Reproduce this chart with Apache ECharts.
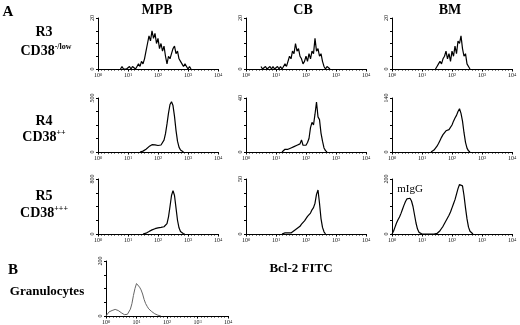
<!DOCTYPE html>
<html>
<head>
<meta charset="utf-8">
<script src="https://cdn.jsdelivr.net/npm/echarts@6/dist/echarts.min.js"></script>
<style>
html, body { margin: 0; padding: 0; background: #fff; }
#chart { width: 520px; height: 325px; }
</style>
</head>
<body>
<div id="chart"></div>
<script>
// bin width in decades, every histogram uses the same one
const STEP = 0.05;

// x axis runs over decades 10^0 .. 10^4
const decadeMin = 0;
const decadeMax = 4;

// counts per bin; the first bin sits at decade `start`
const mpbR3Start = 0.75;
const mpbR3 = [0, 1, 0, 0, 0,
    0, 1, 0, 1, 1, 0, 1, 2, 1, 3,
    2, 4, 7, 10, 13, 11, 15, 12, 14, 10,
    12, 8, 10, 7, 9, 5, 2, 5, 4, 6,
    8, 9, 6, 7, 4, 3, 2, 1, 2, 1,
    0, 1, 0];

const cbR3Start = 0.5;
const cbR3 = [1, 0, 0, 1, 0, 0, 1, 0, 1, 0,
    0, 1, 0, 1, 0, 1, 2, 1, 3, 5,
    4, 7, 6, 10, 7, 8, 5, 4, 2, 3,
    5, 3, 6, 4, 7, 6, 12, 7, 8, 5,
    6, 3, 1, 0, 1, 1, 0];

const bmR3Start = 1.45;
const bmR3 = [0, 1, 2, 3, 2, 4, 5, 7, 4, 6,
    3, 7, 5, 9, 6, 11, 10, 13, 8, 5,
    6, 2, 1, 0];

const mpbR4Start = 1.4;
const mpbR4 = [0, 3, 8, 15, 25, 38, 50, 60, 68, 70,
    66, 62, 60, 62, 65, 80, 110, 170, 260, 360,
    440, 465, 430, 330, 200, 100, 45, 18, 6, 0];

const cbR4Start = 1.2;
const cbR4 = [0, 1, 2, 1, 2, 2, 3, 2, 4, 3,
    5, 4, 6, 9, 5, 6, 5, 7, 10, 18,
    22, 20, 28, 37, 26, 24, 14, 8, 3, 1, 0];

const bmR4Start = 1.3;
const bmR4 = [0, 3, 5, 10, 15, 22, 30, 38, 45, 50,
    55, 52, 58, 62, 70, 80, 88, 95, 105, 112,
    100, 80, 50, 25, 10, 3, 0];

const mpbR5Start = 1.5;
const mpbR5 = [0, 5, 12, 22, 35, 48, 60, 70, 77, 82,
    88, 92, 96, 100, 106, 115, 150, 250, 400, 560,
    630, 560, 380, 200, 90, 35, 12, 3, 0];

const cbR5Start = 1.2;
const cbR5 = [0, 1, 1, 0, 1, 2, 1, 2, 3, 4,
    5, 6, 7, 9, 10, 12, 14, 16, 15, 19,
    22, 24, 28, 36, 40, 28, 14, 6, 2, 0];

const bmR5Start = 0;
const bmR5 = [0, 10, 25, 40, 52, 62, 75, 90, 105, 118,
    128, 132, 130, 120, 100, 70, 40, 18, 6, 2,
    0, 0, 0, 0, 0, 0, 0, 0, 0, 0,
    2, 6, 12, 20, 28, 38, 48, 58, 68, 80,
    95, 110, 125, 145, 165, 180, 187, 175, 140, 95,
    55, 25, 10, 3, 0];

const granStart = 0;
const gran = [0, 4, 15, 22, 20, 26, 24, 25, 20, 18,
    12, 6, 5, 8, 6, 12, 25, 45, 75, 100,
    118, 120, 105, 95, 80, 60, 45, 35, 26, 20,
    16, 12, 8, 5, 3, 1, 0];

const panelStarts = [mpbR3Start, cbR3Start, bmR3Start, mpbR4Start, cbR4Start,
    bmR4Start, mpbR5Start, cbR5Start, bmR5Start, granStart];
const panelCounts = [mpbR3, cbR3, bmR3, mpbR4, cbR4, bmR4, mpbR5, cbR5, bmR5, gran];
const panelYMax = [20, 20, 20, 500, 40, 140, 800, 50, 200, 200];

// layout of the small plots
const colLeft = [98, 246, 392];
const rowTop = [18, 98, 179];
const rowHeight = [51, 54, 55];
const plotWidth = 120;

const SERIF = '"Liberation Serif", "DejaVu Serif", serif';

const chart = echarts.init(document.getElementById('chart'));

const grids = [];
const xAxes = [];
const yAxes = [];
const series = [];

for (let i = 0; i < panelCounts.length; i++) {

    let rect;

    if (i < 9) {
        rect = {
            left: colLeft[i % 3],
            top: rowTop[Math.floor(i / 3)],
            width: plotWidth,
            height: rowHeight[Math.floor(i / 3)]
        };
    } else {
        rect = { left: 106, top: 261, width: 122, height: 55 };
    }

    grids.push(rect);

    xAxes.push({
        gridIndex: i,
        type: 'value',
        min: decadeMin,
        max: decadeMax,
        interval: 1,
        axisLine: { lineStyle: { color: '#000', width: 1 } },
        axisTick: { length: 2.5, lineStyle: { color: '#000' } },
        minorTick: { show: true, splitNumber: 9, length: 1.5, lineStyle: { color: '#000' } },
        splitLine: { show: false },
        axisLabel: {
            margin: 3,
            color: '#111',
            fontFamily: SERIF,
            fontSize: 6,
            formatter: v => '10{s|' + v + '}',
            rich: {
                s: { fontSize: 4.5, fontFamily: SERIF, color: '#111', verticalAlign: 'top' }
            }
        }
    });

    const max = panelYMax[i];

    yAxes.push({
        gridIndex: i,
        type: 'value',
        min: 0,
        max: max,
        interval: max / 4,
        axisLine: { show: true, lineStyle: { color: '#000', width: 1 } },
        axisTick: { show: true, length: 2, lineStyle: { color: '#000' } },
        splitLine: { show: false },
        axisLabel: {
            rotate: 90,
            margin: 3,
            color: '#111',
            fontFamily: SERIF,
            fontSize: 6,
            formatter: v => (v === 0 || v === max) ? String(v) : ''
        }
    });

    const start = panelStarts[i];
    const data = panelCounts[i].map((c, k) => [start + k * STEP, c]);

    series.push({
        type: 'line',
        xAxisIndex: i,
        yAxisIndex: i,
        data: data,
        showSymbol: false,
        silent: true,
        lineStyle: {
            color: i === 9 ? '#666' : '#000',
            width: i === 9 ? 1 : 1.2
        }
    });
}

function label(text, x, y, size, weight, align, rich) {
    return {
        type: 'text',
        silent: true,
        style: {
            text: text,
            x: x,
            y: y,
            fill: '#000',
            font: (weight || 'bold') + ' ' + size + 'px ' + SERIF,
            textAlign: align || 'center',
            textVerticalAlign: 'middle',
            rich: rich
        }
    };
}

const supRich = {
    b: { font: 'bold 14px ' + SERIF, fill: '#000', lineHeight: 16 },
    s: { font: 'bold 8px ' + SERIF, fill: '#000', lineHeight: 16, verticalAlign: 'top' }
};

chart.setOption({
    animation: false,
    grid: grids,
    xAxis: xAxes,
    yAxis: yAxes,
    series: series,
    graphic: [
        label('A', 8, 12, 15),
        label('MPB', 157, 10, 14),
        label('CB', 303, 10, 14),
        label('BM', 450, 10, 14),
        label('R3', 44, 32, 14),
        label('{b|CD38}{s|-/low}', 46, 51, 14, 'bold', 'center', supRich),
        label('R4', 44, 121, 14),
        label('{b|CD38}{s|++}', 44, 137, 14, 'bold', 'center', supRich),
        label('R5', 44, 196, 14),
        label('{b|CD38}{s|+++}', 44, 213, 14, 'bold', 'center', supRich),
        label('B', 13, 270, 15),
        label('Granulocytes', 47, 292, 13),
        label('Bcl-2 FITC', 301, 269, 13),
        label('mIgG', 410, 189, 11, 'normal')
    ]
});
</script>
</body>
</html>
